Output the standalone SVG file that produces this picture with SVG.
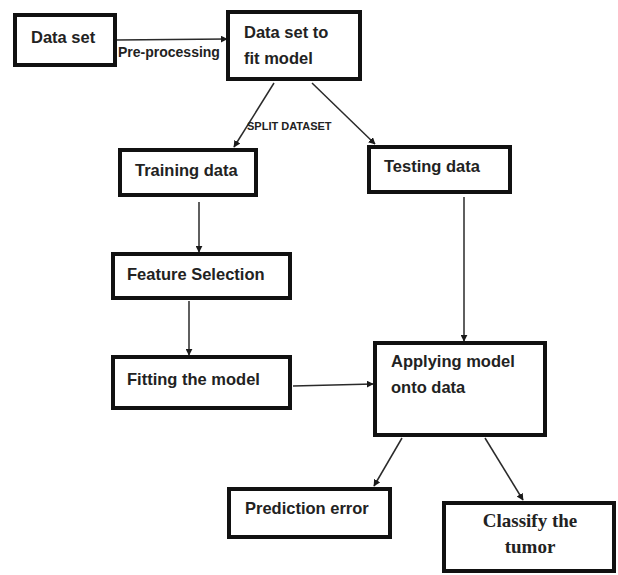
<svg xmlns="http://www.w3.org/2000/svg" width="618" height="575" viewBox="0 0 618 575">
  <defs>
    <marker id="arrow" viewBox="0 0 10 10" refX="9" refY="5" markerWidth="7" markerHeight="7" markerUnits="userSpaceOnUse" orient="auto">
      <path d="M0,0 L10,5 L0,10 z" fill="#1a1a1a"/>
    </marker>
    <style>
      .box { fill: #fff; stroke: #111; stroke-width: 4; }
      .lbl { font-family: "Liberation Sans", Arial, sans-serif; font-weight: bold; font-size: 16.5px; fill: #222; }
      .serif { font-family: "Liberation Serif", "Times New Roman", serif; font-weight: bold; font-size: 19px; fill: #222; }
      .edge { stroke: #2a2a2a; stroke-width: 1.5; fill: none; marker-end: url(#arrow); }
      .elbl { font-family: "Liberation Sans", Arial, sans-serif; font-weight: bold; fill: #222; }
    </style>
  </defs>
  <rect width="618" height="575" fill="#fff"/>

  <g id="connectors">
    <line class="edge" x1="116" y1="40" x2="227" y2="39"/>
    <text class="elbl" x="118" y="57" font-size="14">Pre-processing</text>
    <line class="edge" x1="274" y1="83" x2="234" y2="147"/>
    <line class="edge" x1="312" y1="83" x2="375" y2="144"/>
    <text class="elbl" x="247" y="130" font-size="11">SPLIT DATASET</text>
    <line class="edge" x1="199" y1="202" x2="199" y2="252"/>
    <line class="edge" x1="464" y1="197" x2="464" y2="341"/>
    <line class="edge" x1="189" y1="301" x2="189" y2="355"/>
    <line class="edge" x1="293" y1="386" x2="373" y2="384"/>
    <line class="edge" x1="402" y1="438" x2="374" y2="486"/>
    <line class="edge" x1="485" y1="438" x2="523" y2="500"/>
  </g>

  <g id="data-set">
    <rect class="box" x="15" y="15" width="100" height="50"/>
    <text class="lbl" x="31" y="43">Data set</text>
  </g>

  <g id="fit-model">
    <rect class="box" x="228" y="12" width="132" height="67"/>
    <text class="lbl" x="244" y="38">Data set to</text>
    <text class="lbl" x="244" y="64">fit model</text>
  </g>

  <g id="training-data">
    <rect class="box" x="120" y="150" width="136" height="45"/>
    <text class="lbl" x="135" y="176">Training data</text>
  </g>

  <g id="testing-data">
    <rect class="box" x="369" y="147" width="141" height="45"/>
    <text class="lbl" x="384" y="172">Testing data</text>
  </g>

  <g id="feature-selection">
    <rect class="box" x="113" y="254" width="177" height="44"/>
    <text class="lbl" x="127" y="280">Feature Selection</text>
  </g>

  <g id="fitting-model">
    <rect class="box" x="113" y="357" width="177" height="51"/>
    <text class="lbl" x="127" y="385">Fitting the model</text>
  </g>

  <g id="applying-model">
    <rect class="box" x="375" y="343" width="170" height="92"/>
    <text class="lbl" x="391" y="367">Applying model</text>
    <text class="lbl" x="391" y="393">onto data</text>
  </g>

  <g id="prediction-error">
    <rect class="box" x="229" y="489" width="161" height="48"/>
    <text class="lbl" x="245" y="514">Prediction error</text>
  </g>

  <g id="classify-tumor">
    <rect class="box" x="444" y="503" width="170" height="68"/>
    <text class="serif" x="530" y="527" text-anchor="middle">Classify the</text>
    <text class="serif" x="530" y="553" text-anchor="middle">tumor</text>
  </g>
</svg>
